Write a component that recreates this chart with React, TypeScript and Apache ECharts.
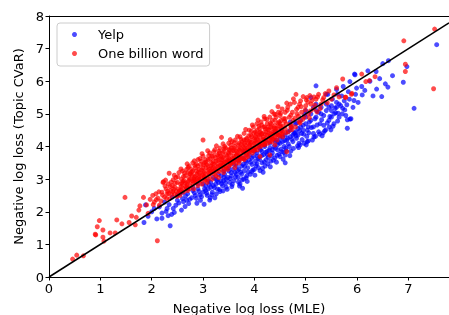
import React, { useEffect, useRef } from "react";
import * as echarts from "echarts";

const xTicks = [0, 1, 2, 3, 4, 5, 6, 7];
const yTicks = [0, 1, 2, 3, 4, 5, 6, 7, 8];
const seriesNames = ["Yelp", "One billion word"];

const yelp: number[][] = [
  [1.85,1.67],[1.88,2.21],[1.93,1.86],[2.0,2.0],[2.05,2.1],[2.1,1.78],[2.2,1.8],[2.2,1.96],[2.32,1.88],[2.36,1.57],[2.39,1.92],[2.42,2.1],[2.47,2.2],[2.58,2.05],[2.65,2.16],[2.68,2.36],[2.78,2.43],[2.88,2.26],[2.94,2.51],[3.02,2.23],[3.14,2.43],[3.23,2.43],[3.33,2.62],
  [2.15,2.15],[2.25,2.3],[2.3,2.1],[2.5,2.35],[2.55,2.55],[2.6,2.4],[2.7,2.55],[2.72,2.25],[2.8,2.65],[2.85,2.5],[2.9,2.7],[2.95,2.35],[3.0,2.6],[3.05,2.8],[3.08,2.5],[3.1,2.7],[3.15,2.9],[3.18,2.6],[3.2,2.8],[3.25,3.0],[3.28,2.7],[3.3,2.9],[3.35,3.1],[3.38,2.8],[3.4,2.95],[3.42,3.15],[3.45,2.75],[3.48,3.05],[3.5,3.25],[3.52,2.9],[3.55,3.1],[3.58,3.3],[3.6,2.95],[3.62,3.2],[3.65,3.4],[3.68,3.05],[3.7,3.3],[3.72,2.85],[3.75,3.15],[3.77,2.72],[3.78,3.45],[3.79,3.0],[3.8,3.25],[3.83,3.55],[3.85,3.1],[3.87,3.35],[3.9,3.6],[3.92,3.15],[3.95,3.23],[3.95,3.45],[3.98,3.7],[4.0,3.3],[4.02,3.55],[4.05,3.47],[4.05,3.8],[4.08,3.35],[4.1,3.6],[4.12,3.9],[4.15,3.5],[4.16,3.33],[4.18,3.75],[4.2,4.0],[4.21,3.4],[4.23,3.6],[4.25,3.85],[4.27,3.67],[4.3,4.1],[4.32,3.55],[4.35,3.8],[4.38,4.0],[4.4,3.65],[4.42,4.2],[4.45,3.9],[4.48,3.76],[4.5,3.69],[4.5,4.1],[4.53,3.84],[4.55,4.3],[4.58,4.0],[4.6,3.5],[4.6,3.74],[4.61,3.95],[4.63,4.2],[4.65,4.45],[4.68,4.0],[4.7,4.3],[4.72,4.6],[4.75,4.15],[4.77,4.4],[4.79,4.41],[4.8,4.7],[4.82,4.25],[4.85,4.55],[4.87,4.1],[4.89,4.05],[4.9,4.8],[4.92,4.4],[4.95,4.65],[4.97,4.1],[5.0,4.9],[5.03,4.15],[5.03,4.5],[5.05,4.17],[5.07,4.75],[5.1,5.0],[5.13,4.2],[5.15,4.6],[5.18,4.85],[5.2,5.86],[5.21,5.1],[5.25,4.45],[5.28,4.7],[5.3,5.2],[5.32,4.33],[5.35,4.95],[5.39,4.51],[5.4,5.3],[5.45,4.8],[5.49,4.51],[5.5,5.1],[5.52,5.45],[5.55,4.7],[5.58,5.04],[5.6,5.35],[5.65,4.9],[5.7,5.55],[5.71,5.0],[5.72,5.17],[5.73,5.84],[5.75,5.4],[5.8,5.28],[5.81,4.82],[5.81,4.56],[5.83,5.68],[5.86,4.84],[5.86,5.99],[5.88,4.85],[5.92,5.2],[5.94,5.41],[5.95,6.22],[5.96,6.2],[5.99,5.79],[6.09,5.84],[6.1,5.58],[6.21,6.32],[6.31,5.55],[6.37,6.3],[6.38,5.76],[6.44,6.08],[6.48,5.53],[6.5,6.54],[6.55,5.92],[6.6,5.82],[6.61,6.63],[6.69,6.17],[6.9,5.97],[6.97,6.45],[7.11,5.17],[7.55,7.12],
  [3.5,3.55],[3.8,3.85],[4.1,4.05],[4.4,4.45],[4.7,4.75],[5.0,5.1],[5.2,5.3],[5.4,5.6],[5.43,5.6],[5.62,5.61],[5.6,5.75],[5.1,5.5],
  [4.6,4.35],[4.7,4.5],[4.8,4.45],[4.9,4.6],[5.0,4.7],[5.1,4.8],[5.2,4.9],[5.3,5.0],[5.4,5.1],[5.5,5.25],[5.6,5.2],[4.55,4.15],[4.65,4.25],[4.75,4.35],[4.85,4.35],[4.95,4.5],[5.05,4.6],[5.15,4.4],[5.25,5.05],[5.35,4.65],[5.45,5.2],[5.55,5.0],[5.65,5.3],[5.5,4.9],
  [3.0,2.85],[3.1,2.95],[3.2,3.05],[3.3,3.15],[3.4,3.25],[3.5,3.35],[3.6,3.45],[3.7,3.55],[3.8,3.65],[3.9,3.75],[4.0,3.85],[4.1,3.95],[4.2,4.05],[4.3,3.95],[4.4,4.15],[4.5,4.25],[3.05,2.65],[3.15,2.75],[3.25,2.85],[3.35,2.95],[3.45,3.0],[3.55,3.2],[3.65,3.15],[3.75,3.4],[3.85,3.5],[3.95,3.65],[4.05,3.7],[4.15,3.85],[4.25,3.75],[4.35,3.9],[4.45,4.05],[2.8,2.75],[2.9,2.85],[2.6,2.6],[2.7,2.7],[2.5,2.5],[2.4,2.45],
  [2.28,2.01],[2.34,2.22],[2.44,1.98],[2.53,2.27],[2.62,2.31],[2.66,2.49],[2.74,2.38],[2.83,2.58],[2.87,2.41],[2.92,2.62],[2.97,2.46],[3.03,2.71],[3.07,2.57],[3.12,2.83],[3.17,2.52],[3.22,2.74],[3.27,2.96],[3.32,2.68],[3.36,2.86],[3.41,3.06],[3.44,2.88],[3.47,2.69],[3.53,3.02],[3.57,2.84],[3.63,3.06],[3.67,3.27],[3.69,2.91],[3.73,3.21],[3.76,2.98],[3.81,3.39],[3.84,3.04],[3.88,3.22],[3.93,3.52],[3.97,3.28],[4.03,3.41],[4.07,3.63],[4.11,3.26],[4.14,3.72],[4.19,3.53],[4.22,3.82],[4.26,3.47],[4.29,3.88],[4.33,3.71],[4.37,3.58],[4.41,3.95],[4.44,3.73],[4.47,4.13],[4.52,3.92],[4.56,3.61],[4.59,4.18],[4.62,3.87],[4.66,4.08],[4.69,3.72],[4.73,4.22],[4.76,3.94],[4.81,4.33],[4.84,4.02],[4.88,4.48],[4.93,4.21],[4.96,4.38],[5.02,4.31],[5.06,4.42],[5.11,4.58],[5.16,4.29],[5.22,4.66],[5.27,4.38],[5.31,4.82],[5.37,4.48],[5.42,4.72],[5.47,4.92],[5.53,4.62],[5.57,5.18],[5.63,5.02],[5.68,5.25],[5.76,5.12],[5.78,4.95],[5.85,5.45],[5.97,5.6],[6.02,5.35],[6.15,5.72],[6.25,6.0],[5.15,5.2],[4.98,4.98],[4.82,4.72],[3.62,3.58],[3.92,3.9],[4.22,4.2],[4.52,4.5],
  [3.13,2.36],[3.26,2.55],[3.39,2.64],[3.56,2.77],[3.71,2.79],[3.86,2.93],[4.01,3.12],[4.17,3.21],[4.31,3.38],[4.43,3.52],[4.57,3.82],[4.71,3.86],[4.86,3.97],[5.01,4.05],[5.19,4.31],[5.34,4.42],[5.46,4.6],[5.62,4.78]
];

const billion: number[][] = [
  [0.46,0.55],[0.54,0.67],[0.67,0.65],[0.9,1.31],[0.91,1.29],[0.94,1.54],[0.98,1.73],[1.05,1.44],[1.05,1.22],[1.07,1.1],[1.19,1.35],[1.29,1.35],[1.32,1.75],[1.42,1.63],[1.48,2.44],[1.56,1.67],[1.61,1.87],[1.68,1.6],[1.7,1.83],[1.75,2.05],[1.77,2.18],[1.84,2.44],[1.9,2.21],[1.93,1.95],[2.11,1.11],[1.97,2.38],[2.02,2.5],[2.05,2.3],[2.08,2.55],[2.12,2.42],[2.15,2.2],
  [2.2,2.6],[2.22,2.9],[2.23,2.92],[2.25,2.45],[2.28,2.7],[2.3,2.55],[2.32,2.85],[2.34,3.18],[2.35,2.4],[2.37,2.65],[2.4,2.8],[2.42,2.98],[2.44,2.55],[2.45,2.75],[2.47,3.05],[2.48,2.62],[2.5,2.9],[2.52,2.7],[2.53,3.2],[2.55,2.5],[2.56,2.85],[2.58,3.0],[2.6,2.72],[2.6,3.25],[2.62,2.6],[2.63,2.95],[2.65,3.1],[2.66,2.78],[2.68,3.3],[2.7,2.65],[2.7,2.9],[2.72,3.05],[2.73,3.4],[2.75,2.8],[2.76,3.15],[2.78,2.95],[2.8,3.5],[2.8,3.25],[2.82,2.7],[2.83,3.05],[2.85,3.35],[2.86,2.9],[2.88,3.15],[2.9,3.6],[2.9,2.8],[2.92,3.3],[2.93,3.0],[2.95,3.45],[2.96,3.1],[2.98,2.85],[3.0,3.7],[3.0,3.25],[3.0,4.2],[3.02,3.0],[3.03,3.5],[3.05,3.15],[3.06,3.35],[3.08,2.9],[3.1,3.6],[3.1,3.4],[3.12,3.1],[3.13,3.8],[3.15,3.25],[3.16,3.5],[3.18,3.0],[3.2,3.7],[3.2,3.35],[3.22,3.15],[3.23,3.9],[3.25,3.55],[3.26,3.25],[3.28,3.75],[3.3,3.4],[3.3,3.05],[3.32,3.6],[3.33,3.95],[3.35,3.3],[3.36,4.28],[3.37,3.5],[3.38,3.8],[3.4,3.2],[3.4,3.65],[3.42,4.0],[3.43,3.4],[3.45,3.75],[3.46,3.55],[3.48,3.3],[3.5,3.9],[3.5,4.1],[3.52,3.6],[3.53,3.45],[3.55,3.8],[3.56,4.15],[3.58,3.5],[3.6,3.95],[3.6,3.7],[3.62,3.35],[3.63,4.2],[3.65,3.85],[3.66,3.6],[3.68,4.05],[3.7,3.75],[3.7,3.5],[3.72,4.3],[3.73,3.95],[3.75,3.65],[3.76,4.15],[3.78,3.85],[3.8,4.4],[3.8,3.6],[3.82,4.05],[3.83,3.8],[3.85,4.25],[3.86,3.95],[3.88,3.7],[3.9,4.5],[3.9,4.15],[3.92,3.9],[3.93,4.35],[3.95,4.05],[3.96,3.8],[3.98,4.6],[4.0,4.25],[4.0,3.95],[4.02,4.45],[4.03,4.1],[4.05,4.7],[4.06,3.9],[4.08,4.35],[4.1,4.55],[4.1,4.15],[4.12,4.0],[4.13,4.75],[4.15,4.4],[4.16,4.2],[4.18,4.6],[4.2,4.05],[4.2,4.85],[4.22,4.45],[4.23,4.25],[4.25,4.7],[4.26,4.1],[4.28,4.5],[4.3,4.9],[4.3,4.3],[4.32,4.6],[4.34,4.15],[4.35,4.8],[4.37,4.45],[4.38,5.0],[4.4,4.3],[4.4,4.65],[4.42,4.9],[4.44,4.2],[4.45,4.55],[4.47,5.05],[4.48,4.75],[4.5,4.4],[4.5,4.95],[4.52,4.6],[4.54,5.15],[4.55,4.3],[4.57,4.85],[4.6,4.55],[4.6,5.05],[4.62,4.7],[4.65,5.2],[4.66,4.45],[4.68,4.9],[4.7,5.3],[4.72,4.65],[4.74,5.05],[4.75,4.8],[4.78,5.35],[4.8,4.6],[4.81,5.6],[4.83,5.0],[4.85,5.2],[4.87,4.75],[4.9,5.4],[4.92,5.05],[4.95,5.53],[4.97,4.9],[5.0,5.25],[5.01,5.43],[5.05,5.0],[5.08,5.56],[5.1,5.3],[5.15,5.15],[5.2,5.45],[5.25,5.6],[5.3,5.3],[5.35,5.5],[5.45,5.7],[5.5,5.45],[5.6,5.8],[5.72,6.07],[5.77,5.51],[5.78,5.51],[5.89,5.6],[5.9,5.63],[6.09,6.22],[6.17,5.99],[6.24,6.02],[6.35,6.14],[6.91,7.24],[6.94,6.52],[6.94,6.3],[7.49,5.77],[7.51,7.6],
  [2.65,2.88],[2.7,3.2],[2.75,3.0],[2.8,2.85],[2.85,3.1],[2.9,3.4],[2.95,2.95],[3.0,3.35],[3.05,3.6],[3.1,3.0],[3.15,3.4],[3.2,3.55],[3.25,3.1],[3.3,3.7],[3.35,3.5],[3.4,3.85],[3.45,3.35],[3.5,3.65],[3.55,3.95],[3.6,3.55],[3.65,3.75],[3.7,4.1],[3.75,3.85],[3.8,4.2],[3.85,3.75],[3.9,4.0],[3.95,4.3],[4.0,4.1],[4.05,4.5],[4.1,4.3],[4.15,4.05],[4.2,4.6],[4.25,4.35],[4.3,4.15],[4.35,4.55],[4.4,4.8],[4.45,4.4],[4.5,4.7],[4.55,4.45],[4.6,4.85],
  [2.58,2.78],[2.62,3.08],[2.67,2.7],[2.72,2.95],[2.77,3.3],[2.82,3.0],[2.87,3.25],[2.92,3.05],[2.97,3.55],[3.02,3.2],[3.07,3.45],[3.12,3.3],[3.17,3.7],[3.22,3.45],[3.27,3.35],[3.32,3.8],[3.37,3.6],[3.42,3.3],[3.47,3.7],[3.52,3.9],[3.57,3.65],[3.62,4.0],[3.67,3.8],[3.72,3.6],[3.77,4.0],[3.82,3.9],[3.87,4.1],[3.92,4.2],[3.97,3.95],[4.02,4.3],[4.07,4.2],[4.12,4.45],[4.17,4.3],[4.22,4.15],[4.27,4.6],[4.32,4.4],[4.37,4.25],[4.42,4.55],[4.47,4.35],[4.52,4.8],
  [4.4,4.05],[4.63,3.84],[4.11,3.69],[4.3,3.74],
  [2.31,2.63],[2.38,2.91],[2.43,2.69],[2.51,3.07],[2.57,2.66],[2.61,2.93],[2.64,3.19],[2.69,2.83],[2.71,3.36],[2.74,2.71],[2.79,3.11],[2.81,2.93],[2.84,3.42],[2.89,3.02],[2.91,3.21],[2.94,3.63],[2.99,3.13],[3.01,3.44],[3.04,2.96],[3.09,3.27],[3.11,3.72],[3.14,3.17],[3.19,3.46],[3.21,3.84],[3.24,3.31],[3.29,3.58],[3.31,3.23],[3.34,3.71],[3.39,3.43],[3.41,3.93],[3.44,3.52],[3.49,3.81],[3.51,3.41],[3.54,4.04],[3.59,3.62],[3.61,3.87],[3.64,3.47],[3.69,3.93],[3.71,3.67],[3.74,4.22],[3.79,3.77],[3.81,4.11],[3.84,3.66],[3.89,4.33],[3.91,3.84],[3.94,4.13],[3.99,4.41],[4.01,3.89],[4.04,4.23],[4.09,4.62],[4.11,4.09],[4.14,4.37],[4.19,4.17],[4.21,4.53],[4.24,4.83],[4.29,4.39],[4.31,4.72],[4.33,4.27],[4.39,4.57],[4.41,4.98],[4.43,4.36],[4.49,4.63],[4.51,5.02],[4.53,4.49],[4.59,4.77],[4.61,4.42],[4.64,5.11],[4.69,4.68],[4.71,4.96],[4.73,4.52],[4.79,4.87],[4.82,5.14],[4.86,4.93],[4.91,5.22],[4.94,4.83],[4.99,5.12],[5.04,5.36],[5.09,5.09],[5.12,5.41],[5.18,5.27],[5.23,5.52],[5.28,5.16],[5.33,5.43],[5.38,5.62],[5.42,5.34],[5.55,5.58],[5.65,5.52],
  [2.03,2.22],[2.09,2.37],[2.14,2.61],[2.18,2.33],[2.21,2.51],[2.26,2.79],[2.29,2.41],[2.33,2.56],[2.36,2.77],[2.41,2.62],[2.46,2.88],[2.49,2.47],[2.54,2.64],[2.59,2.87],
  [2.74,3.17],[2.78,3.22],[2.84,2.98],[2.87,3.46],[2.93,3.18],[2.97,3.29],[3.03,3.08],[3.06,3.52],[3.11,3.19],[3.14,3.62],[3.17,3.33],[3.21,3.24],[3.24,3.66],[3.28,3.47],[3.31,3.86],[3.34,3.41],[3.38,3.67],[3.41,3.52],[3.44,3.96],[3.48,3.58],[3.51,3.77],[3.54,3.49],[3.58,3.88],[3.61,4.12],[3.64,3.71],[3.68,3.58],[3.71,3.89],[3.74,4.07],[3.78,3.63],[3.81,3.97],[3.84,4.21],[3.88,3.88],[3.91,4.06],[3.94,4.47],[3.98,3.87],[4.01,4.17],[4.04,4.38],[4.08,4.02],[4.11,4.42],[4.14,4.66],[4.18,4.23],[4.21,4.38],[4.26,4.52],[4.29,4.24],[4.33,4.68],[4.36,4.38],[4.41,4.47],[4.46,4.71],[4.49,4.32],[4.56,4.62],
  [2.27,2.97],[2.44,3.12],[2.57,3.31],[2.69,3.47],[2.83,3.56],[2.98,3.78],[3.09,3.87],[3.26,4.02],[3.39,4.08],[3.53,4.21],[3.67,4.31],[3.83,4.52],[3.96,4.66],[4.07,4.81],[4.19,4.92],[4.34,5.07],[4.46,5.22],[4.63,5.33],[4.76,5.46],[4.88,5.3],[5.02,5.5],[5.16,5.52],
  [2.39,2.52],[2.52,2.58],[2.68,2.75],[2.88,2.92],[3.02,3.05],[3.19,3.22],[3.36,3.38],[3.53,3.55],[3.71,3.7],[3.87,3.85],[4.03,3.98],[4.19,4.08],[4.36,4.22],[4.54,4.38],[4.71,4.58],[4.89,4.72],[5.07,4.88],[5.22,5.06]
];

const diagonal: number[][] = [[0, 0], [7.79, 7.79]];

export default function App() {
  const ref = useRef<HTMLDivElement>(null);
  useEffect(() => {
    if (!ref.current) return;
    const chart = echarts.init(ref.current, undefined, { renderer: "svg" });
    const font = "DejaVu Sans";
    chart.setOption({
      animation: false,
      textStyle: { fontFamily: font },
      grid: { left: 49, top: 16, width: 400, height: 261, show: false, containLabel: false, outerBoundsMode: "none" },
      legend: {
        orient: "vertical",
        left: 57,
        top: 23,
        padding: [4, 6, 5, 15],
        itemGap: 4,
        itemWidth: 5,
        itemHeight: 5,
        icon: "circle",
        backgroundColor: "#ffffff",
        borderColor: "#cccccc",
        borderWidth: 1,
        borderRadius: 3,
        data: seriesNames,
        textStyle: { fontFamily: font, fontSize: 13, color: "#000", padding: [0, 0, 0, 16], lineHeight: 15 },
      },
      xAxis: {
        type: "value",
        min: 0,
        max: 7.79,
        interval: 1,
        name: "Negative log loss (MLE)",
        nameLocation: "middle",
        nameGap: 25,
        nameTextStyle: { fontFamily: font, fontSize: 13, color: "#000" },
        axisLine: { show: true, onZero: false, lineStyle: { color: "#000", width: 1 } },
        axisTick: { show: true, length: 3.5, inside: false, lineStyle: { color: "#000" } },
        axisLabel: {
          fontFamily: font, fontSize: 13, color: "#000", margin: 5,
          showMaxLabel: false,
          formatter: (v: number) => (xTicks.includes(v) ? String(v) : ""),
        },
        splitLine: { show: false },
      },
      yAxis: {
        type: "value",
        min: 0,
        max: 8,
        interval: 1,
        name: "Negative log loss (Topic CVaR)",
        nameLocation: "middle",
        nameGap: 24,
        nameTextStyle: { fontFamily: font, fontSize: 13, color: "#000" },
        axisLine: { show: true, onZero: false, lineStyle: { color: "#000", width: 1 } },
        axisTick: { show: true, length: 3.5, inside: false, lineStyle: { color: "#000" } },
        axisLabel: {
          fontFamily: font, fontSize: 13, color: "#000", margin: 5,
          formatter: (v: number) => (yTicks.includes(v) ? String(v) : ""),
        },
        splitLine: { show: false },
      },
      graphic: [
        { type: "line", shape: { x1: 49, y1: 16.5, x2: 449, y2: 16.5 }, style: { stroke: "#000", lineWidth: 1 }, z: 10 },
      ],
      series: [
        {
          name: seriesNames[0],
          type: "scatter",
          data: yelp,
          symbolSize: 5,
          itemStyle: { color: "#0000ff", opacity: 0.7 },
          z: 2,
        },
        {
          name: seriesNames[1],
          type: "scatter",
          data: billion,
          symbolSize: 5,
          itemStyle: { color: "#ff0000", opacity: 0.7 },
          z: 3,
        },
        {
          type: "line",
          data: diagonal,
          symbol: "none",
          lineStyle: { color: "#000", width: 1.5 },
          z: 4,
        },
      ],
    });
    return () => chart.dispose();
  }, []);
  return <div ref={ref} style={{ position: "fixed", left: 0, top: 0, width: 449, height: 315 }} />;
}
